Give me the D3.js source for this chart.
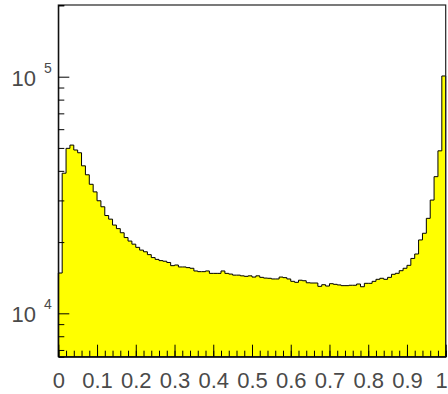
<!DOCTYPE html>
<html>
<head>
<meta charset="utf-8">
<script src="https://cdn.jsdelivr.net/npm/d3@7"></script>
<style>
  body { margin: 0; background: #fff; }
  svg { display: block; }
  .lbl { font-family: "Liberation Sans", Arial, sans-serif; fill: #4a4a4a; }
</style>
</head>
<body>
<div id="chart"></div>
<script>
// histogram contents, 100 bins between 0 and 1
var binLow = 0, binHigh = 1;
var counts = [
  14800, 39100, 49800, 51400, 49000, 47700, 42000, 38500, 35100, 32600,
  29900, 28200, 25900, 25000, 23600, 22800, 21900, 20900, 20200, 19600,
  19000, 18500, 18200, 17700, 17200, 16900, 16700, 16600, 16400, 15900,
  16000, 15700, 15700, 15600, 15500, 15100, 15000, 15000, 15100, 14750,
  14750, 14750, 15100, 14750, 14650, 14500, 14500, 14400, 14330, 14400,
  14230, 14400, 14190, 14090, 14060, 13970, 13970, 14230, 14150, 13970,
  13650, 13520, 13800, 13730, 13460, 13430, 13430, 13000, 13210, 13040,
  13340, 13260, 13180, 13090, 13090, 13140, 13140, 13300, 12950, 13390,
  13390, 13650, 13920, 14060, 13920, 14190, 14620, 14760, 15140, 15500,
  15950, 17060, 17810, 20420, 21790, 25200, 30100, 37800, 48600, 100700
];
var xTickValues = [0, 0.1, 0.2, 0.3, 0.4, 0.5, 0.6, 0.7, 0.8, 0.9, 1];
var xTickLabels = ["0", "0.1", "0.2", "0.3", "0.4", "0.5", "0.6", "0.7", "0.8", "0.9", "1"];
var yDecades = [4, 5];
var yMin = 6556, yMax = 200900;

var width = 448, height = 394,
    marginLeft = 58.3,
    marginRight = 2.3,
    marginTop = 5,
    marginBottom = 37.3;

var x = d3.scaleLinear().domain([binLow, binHigh]).range([marginLeft, width - marginRight]);
var y = d3.scaleLog().domain([yMin, yMax]).range([height - marginBottom, marginTop]);

var svg = d3.select('#chart').append('svg')
    .attr('width', width)
    .attr('height', height);

// step points: left edge of each bin, plus the closing edge
var nb = counts.length;
var pts = counts.map(function(c, i){ return [binLow + i * (binHigh - binLow) / nb, c]; });
pts.push([binHigh, counts[nb - 1]]);

var area = d3.area()
    .curve(d3.curveStepAfter)
    .x(function(d){ return x(d[0]); })
    .y0(y(yMin))
    .y1(function(d){ return y(d[1]); });

svg.append('path')
    .datum(pts)
    .attr('d', area)
    .style('fill', '#ffff00')
    .style('stroke', 'black')
    .style('stroke-width', 1);

// frame
svg.append('rect')
    .attr('x', x(binLow))
    .attr('y', y(yMax))
    .attr('width', x(binHigh) - x(binLow))
    .attr('height', y(yMin) - y(yMax))
    .style('fill', 'none')
    .style('stroke', '#222')
    .style('stroke-width', 1.2);

// x axis: minor ticks, then major ticks with labels
var xMinor = d3.range(0, 51).map(function(i){ return i * 0.02; });
svg.append('g')
    .attr('transform', 'translate(0,' + y(yMin) + ')')
    .call(d3.axisBottom(x).tickValues(xMinor).tickSize(-6).tickFormat(''))
    .call(function(g){ g.selectAll('line').style('stroke', 'black'); g.select('.domain').style('stroke', 'black'); });

svg.append('g')
    .attr('transform', 'translate(0,' + y(yMin) + ')')
    .call(d3.axisBottom(x).tickValues(xTickValues).tickSize(-12).tickPadding(16)
        .tickFormat(function(d, i){ return xTickLabels[i]; }))
    .call(function(g){
        g.select('.domain').remove();
        g.selectAll('line').style('stroke', 'black');
        g.selectAll('text').attr('class', 'lbl').style('font-size', '22px').attr('fill', null)
            .attr('dx', function(d){ return d === binHigh ? -4.5 : 0; });
    });

// y axis: log minor ticks, decades long
var yMinor = y.ticks().filter(function(v){ return yDecades.indexOf(Math.round(Math.log10(v) * 1000) / 1000) < 0; });
svg.append('g')
    .attr('transform', 'translate(' + x(binLow) + ',0)')
    .call(d3.axisLeft(y).tickValues(yMinor).tickSize(-6).tickFormat(''))
    .call(function(g){ g.selectAll('line').style('stroke', 'black'); g.select('.domain').style('stroke', 'black'); });

svg.append('g')
    .attr('transform', 'translate(' + x(binLow) + ',0)')
    .call(d3.axisLeft(y).tickValues(yDecades.map(function(p){ return Math.pow(10, p); })).tickSize(-11).tickFormat(''))
    .call(function(g){ g.select('.domain').remove(); g.selectAll('line').style('stroke', 'black'); });

var yl = svg.append('g').selectAll('g').data(yDecades).enter().append('g');
yl.append('text')
    .attr('class', 'lbl')
    .attr('x', 36)
    .attr('y', function(p){ return y(Math.pow(10, p)) + 9; })
    .style('font-size', '22px')
    .style('text-anchor', 'end')
    .text('10');
yl.append('text')
    .attr('class', 'lbl')
    .attr('x', 44)
    .attr('y', function(p){ return y(Math.pow(10, p)) - 4; })
    .style('font-size', '14px')
    .text(function(p){ return p; });
</script>
</body>
</html>
